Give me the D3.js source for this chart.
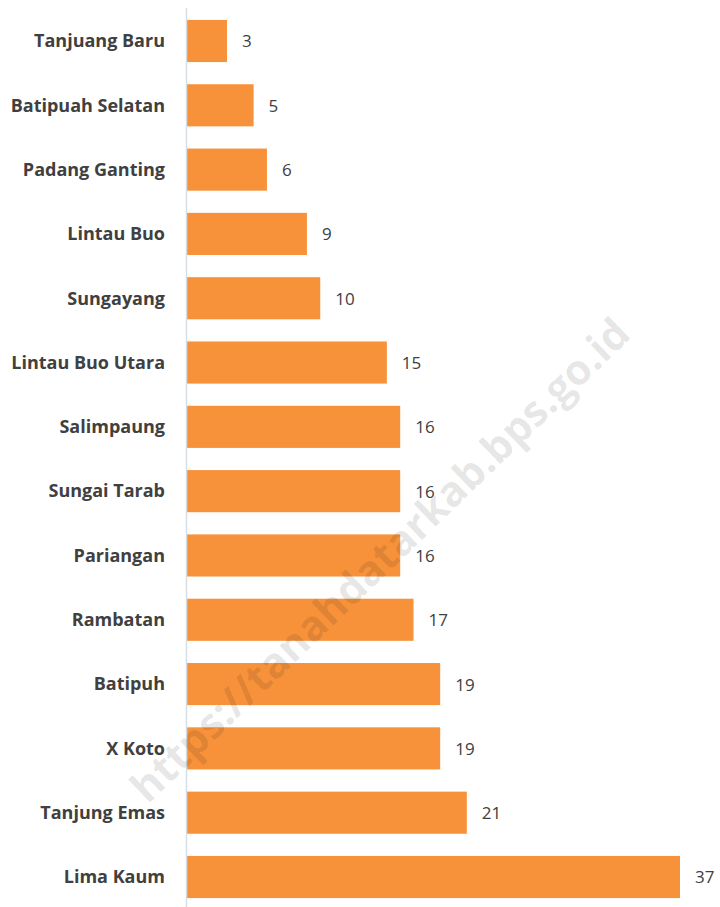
<!DOCTYPE html>
<html>
<head>
<meta charset="utf-8">
<script src="https://cdn.jsdelivr.net/npm/d3@7"></script>
<style>
  body { margin: 0; background: #fff; }
  svg { display: block; }
</style>
</head>
<body>
<div id="chart"></div>
<script>
const categories = [
  "Tanjuang Baru", "Batipuah Selatan", "Padang Ganting", "Lintau Buo",
  "Sungayang", "Lintau Buo Utara", "Salimpaung", "Sungai Tarab",
  "Pariangan", "Rambatan", "Batipuh", "X Koto", "Tanjung Emas", "Lima Kaum"
];
const values = [3, 5, 6, 9, 10, 15, 16, 16, 16, 17, 19, 19, 21, 37];
const watermark = "https://tanahdatarkab.bps.go.id";

const width = 720, height = 907;
const margin = { top: 9, right: 40, bottom: 0, left: 187 };

const svg = d3.select("#chart").append("svg")
  .attr("width", width)
  .attr("height", height);

const x = d3.scaleLinear()
  .domain([0, 37])
  .range([margin.left, 680]);

const y = d3.scaleBand()
  .domain(categories)
  .range([margin.top, 909])
  .paddingInner(0.345)
  .paddingOuter(0.17);

// bars
svg.append("g")
  .selectAll("rect")
  .data(values)
  .join("rect")
  .attr("x", x(0))
  .attr("y", (d, i) => y(categories[i]))
  .attr("width", d => x(d) - x(0))
  .attr("height", y.bandwidth())
  .attr("fill", "#f7923a");

// vertical axis line
svg.append("line")
  .attr("x1", x(0) - 0.5).attr("x2", x(0) - 0.5)
  .attr("y1", 8).attr("y2", height)
  .attr("stroke", "#d6dde3")
  .attr("stroke-width", 1.5);

// category labels
svg.append("g")
  .selectAll("text")
  .data(categories)
  .join("text")
  .attr("x", 165)
  .attr("y", d => y(d) + y.bandwidth() / 2)
  .attr("dy", "0.35em")
  .attr("text-anchor", "end")
  .attr("font-family", "'Open Sans', sans-serif")
  .attr("font-weight", "bold")
  .attr("font-size", 18)
  .attr("fill", "#404040")
  .text(d => d);

// value labels
svg.append("g")
  .selectAll("text")
  .data(values)
  .join("text")
  .attr("x", d => x(d) + 15)
  .attr("y", (d, i) => y(categories[i]) + y.bandwidth() / 2)
  .attr("dy", "0.38em")
  .attr("font-family", "'Open Sans', sans-serif")
  .attr("font-size", 17)
  .attr("fill", "#404040")
  .text(d => d);

// watermark
svg.append("text")
  .attr("transform", "translate(380,560) rotate(-44)")
  .attr("text-anchor", "middle")
  .attr("dy", "0.35em")
  .attr("font-family", "'Open Sans', sans-serif")
  .attr("font-weight", "bold")
  .attr("font-size", 42)
  .attr("fill", "#000")
  .attr("fill-opacity", 0.1)
  .text(watermark);
</script>
</body>
</html>
